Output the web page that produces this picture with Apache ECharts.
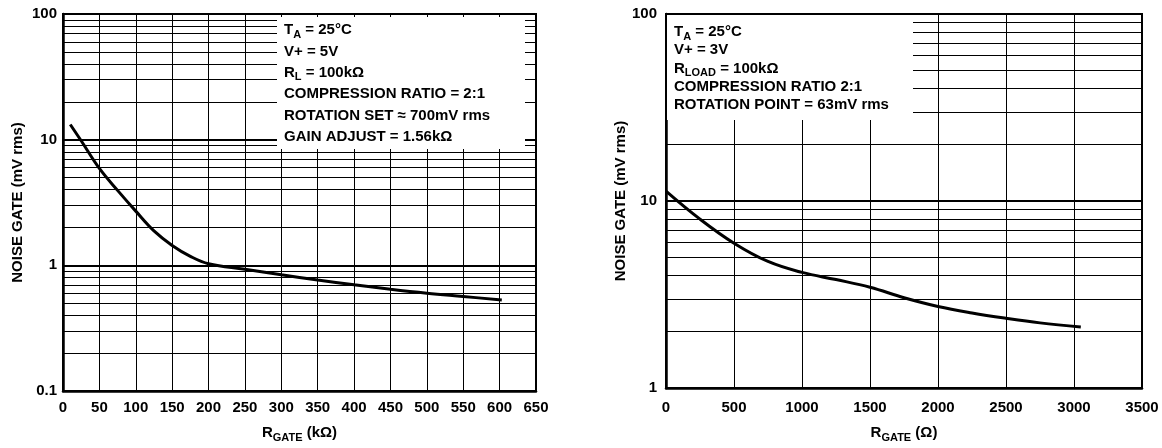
<!DOCTYPE html>
<html>
<head>
<meta charset="utf-8">
<script src="https://cdn.jsdelivr.net/npm/echarts@6/dist/echarts.min.js"></script>
<style>
  html, body { margin: 0; padding: 0; background: #fff; }
  #chart { width: 1162px; height: 448px; }
</style>
</head>
<body>
<div id="chart"></div>
<script>
// left plot: noise gate vs R_GATE (kOhm), V+ = 5V
var leftX = [10, 25, 50, 75, 100, 125, 150, 175, 200, 250, 300, 350, 400, 450, 500, 550, 603];
var leftY = [13.2, 9.8, 5.9, 3.95, 2.7, 1.88, 1.44, 1.18, 1.03, 0.93, 0.84, 0.765, 0.70, 0.645, 0.60, 0.565, 0.53];
// right plot: noise gate vs R_GATE (Ohm), V+ = 3V
var rightX = [0, 250, 500, 750, 1000, 1250, 1500, 1750, 2000, 2250, 2500, 2750, 3050];
var rightY = [11.3, 8.0, 5.95, 4.75, 4.15, 3.8, 3.46, 3.04, 2.73, 2.52, 2.36, 2.23, 2.12];

// minor log grid lines
var leftMinor = [0.2, 0.3, 0.4, 0.5, 0.6, 0.7, 0.8, 0.9, 2, 3, 4, 5, 6, 7, 8, 9, 20, 30, 40, 50, 60, 70, 80, 90];
var rightMinor = [2, 3, 4, 5, 6, 7, 8, 9, 20, 30, 40, 50, 60, 70, 80, 90];

var leftNotes = ['{b|T}{s|A}{b| = 25°C}', '{b|V+ = 5V}', '{b|R}{s|L}{b| = 100kΩ}',
  '{b|COMPRESSION RATIO = 2:1}', '{b|ROTATION SET ≈ 700mV rms}', '{b|GAIN ADJUST = 1.56kΩ}'];
var rightNotes = ['{b|T}{s|A}{b| = 25°C}', '{b|V+ = 3V}', '{b|R}{s|LOAD}{b| = 100kΩ}',
  '{b|COMPRESSION RATIO 2:1}', '{b|ROTATION POINT = 63mV rms}'];

var FONT = '"Liberation Sans", Arial, Helvetica, sans-serif';

var rich = {
  b: { fontFamily: FONT, fontWeight: 'bold', fontSize: 15, color: '#000', lineHeight: 20 },
  s: { fontFamily: FONT, fontWeight: 'bold', fontSize: 11, color: '#000', verticalAlign: 'bottom' }
};

function pairs(xs, ys) {
  return xs.map(function (x, i) { return [x, ys[i]]; });
}

function noteBox(x, y, w, h, tx, ty, gap, lines) {
  var els = [{
    type: 'rect', z: 50,
    shape: { x: x, y: y, width: w, height: h },
    style: { fill: '#fff' }
  }];
  lines.forEach(function (t, i) {
    els.push({
      type: 'text', z: 51, x: tx, y: ty + i * gap,
      style: { text: t, rich: rich, verticalAlign: 'middle', align: 'left' }
    });
  });
  return els;
}

var myChart = echarts.init(document.getElementById('chart'));

var labelStyle = { fontFamily: FONT, fontWeight: 'bold', fontSize: 15, color: '#000' };
function plain(v) { return String(v); }

var option = {
  animation: false,
  grid: [
    { left: 63, top: 14, width: 473, height: 377, show: true, borderColor: '#000', borderWidth: 2 },
    { left: 666, top: 14, width: 476, height: 379, show: true, borderColor: '#000', borderWidth: 2 }
  ],
  xAxis: [
    {
      gridIndex: 0, type: 'value', min: 0, max: 650, interval: 50,
      axisLine: { lineStyle: { color: '#000', width: 2.5 } },
      axisTick: { show: false },
      axisLabel: Object.assign({ margin: 9, formatter: plain }, labelStyle),
      splitLine: { show: true, lineStyle: { color: '#000', width: 1 } },
      name: '{b|R}{s|GATE}{b| (kΩ)}', nameLocation: 'middle', nameGap: 32,
      nameTextStyle: { rich: rich }
    },
    {
      gridIndex: 1, type: 'value', min: 0, max: 3500, interval: 500,
      axisLine: { lineStyle: { color: '#000', width: 2.5 } },
      axisTick: { show: false },
      axisLabel: Object.assign({ margin: 12, formatter: plain }, labelStyle),
      splitLine: { show: true, lineStyle: { color: '#000', width: 1 } },
      name: '{b|R}{s|GATE}{b| (Ω)}', nameLocation: 'middle', nameGap: 35,
      nameTextStyle: { rich: rich }
    }
  ],
  yAxis: [
    {
      gridIndex: 0, type: 'log', logBase: 10, min: 0.1, max: 100,
      axisLine: { lineStyle: { color: '#000', width: 2.5 } },
      axisTick: { show: false },
      axisLabel: Object.assign({ margin: 6, formatter: plain }, labelStyle),
      splitLine: { show: true, lineStyle: { color: '#000', width: 2 } },
      name: 'NOISE GATE (mV rms)', nameLocation: 'middle', nameGap: 38,
      nameTextStyle: labelStyle
    },
    {
      gridIndex: 1, type: 'log', logBase: 10, min: 1, max: 100,
      axisLine: { lineStyle: { color: '#000', width: 2.5 } },
      axisTick: { show: false },
      axisLabel: Object.assign({ margin: 9, formatter: plain }, labelStyle),
      splitLine: { show: true, lineStyle: { color: '#000', width: 2 } },
      name: 'NOISE GATE (mV rms)', nameLocation: 'middle', nameGap: 27,
      nameTextStyle: labelStyle
    }
  ],
  series: [
    {
      type: 'line', xAxisIndex: 0, yAxisIndex: 0, data: [], z: 1,
      markLine: {
        z: 1, silent: true, symbol: 'none', label: { show: false },
        lineStyle: { color: '#000', width: 1, type: 'solid' },
        data: leftMinor.map(function (v) { return { yAxis: v }; })
      }
    },
    {
      type: 'line', xAxisIndex: 1, yAxisIndex: 1, data: [], z: 1,
      markLine: {
        z: 1, silent: true, symbol: 'none', label: { show: false },
        lineStyle: { color: '#000', width: 1, type: 'solid' },
        data: rightMinor.map(function (v) { return { yAxis: v }; })
      }
    },
    {
      type: 'line', xAxisIndex: 0, yAxisIndex: 0, z: 10,
      data: pairs(leftX, leftY), smooth: 0.4, showSymbol: false,
      lineStyle: { color: '#000', width: 3 }
    },
    {
      type: 'line', xAxisIndex: 1, yAxisIndex: 1, z: 10,
      data: pairs(rightX, rightY), smooth: 0.4, showSymbol: false,
      lineStyle: { color: '#000', width: 3 }
    }
  ],
  graphic: noteBox(277, 17, 248, 132, 284, 30, 21.4, leftNotes)
    .concat(noteBox(667, 15, 246, 105, 674, 32, 18.3, rightNotes))
};

myChart.setOption(option);
</script>
</body>
</html>
